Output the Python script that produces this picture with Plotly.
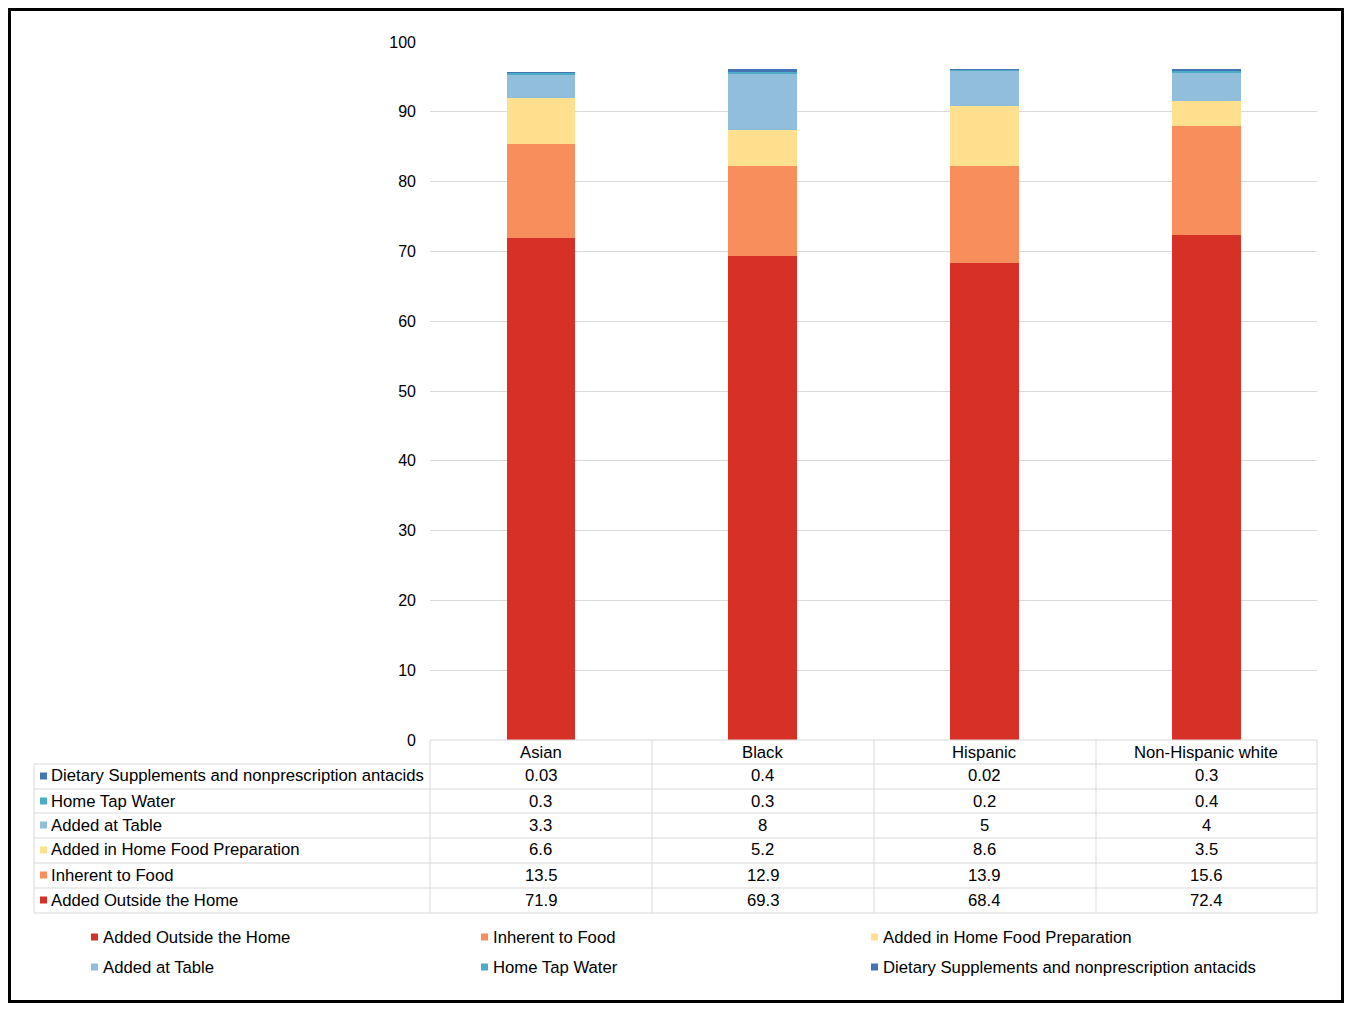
import plotly.graph_objects as go

# Categories and series (bottom to top of stack)
groups = ["Asian", "Black", "Hispanic", "Non-Hispanic white"]
series_names = [
    "Added Outside the Home",
    "Inherent to Food",
    "Added in Home Food Preparation",
    "Added at Table",
    "Home Tap Water",
    "Dietary Supplements and nonprescription antacids",
]
outside_home = [71.9, 69.3, 68.4, 72.4]
inherent_food = [13.5, 12.9, 13.9, 15.6]
home_prep = [6.6, 5.2, 8.6, 3.5]
at_table = [3.3, 8, 5, 4]
tap_water = [0.3, 0.3, 0.2, 0.4]
supplements = [0.03, 0.4, 0.02, 0.3]
colors = ["#d73027", "#f88e5c", "#fee08f", "#91bfdb", "#4bacc6", "#4575b4"]

all_values = [outside_home, inherent_food, home_prep, at_table, tap_water, supplements]

# page has an 8px body margin, so the figure is 16px smaller than the window
OFF = 8
W, H = 1352 - 2 * OFF, 1011 - 2 * OFF
PX0, PX1, PY0, PY1 = 430, 1317, 42, 740   # plot area in window pixels
L, T = PX0 - OFF, PY0 - OFF
R, B = W - (PX1 - OFF), H - (PY1 - OFF)
PW, PH = PX1 - PX0, PY1 - PY0


def fx(px):
    return (px - PX0) / PW


def fy(py):
    return (PY1 - py) / PH


fig = go.Figure()
for name, vals, col in zip(series_names, all_values, colors):
    fig.add_trace(go.Bar(x=groups, y=vals, name=name, marker_color=col,
                         marker_line_width=0, showlegend=False))

font = dict(family="Liberation Sans, Arial, sans-serif", size=16.7, color="#000000")
grid = "#d9d9d9"

shapes = []
annotations = []


def swatch(x, yc, col):
    shapes.append(dict(type="rect", xref="paper", yref="paper",
                       x0=fx(x), x1=fx(x + 7), y0=fy(yc - 3.5), y1=fy(yc + 3.5),
                       fillcolor=col, line=dict(width=0)))


def label(x, yc, text):
    annotations.append(dict(x=fx(x), xref="paper", y=fy(yc), yref="paper",
                            text=text, showarrow=False, font=font,
                            xanchor="left", yanchor="middle", xshift=-2))


# data table grid
row_lines = [740, 764, 789, 813, 838, 863, 888, 913]
col_lines = [430, 652, 874, 1096, 1317]
for i, yl in enumerate(row_lines):
    x0 = 430 if i == 0 else 34
    shapes.append(dict(type="line", xref="paper", yref="paper",
                       x0=fx(x0), x1=fx(1317), y0=fy(yl), y1=fy(yl),
                       line=dict(color=grid, width=1)))
shapes.append(dict(type="line", xref="paper", yref="paper",
                   x0=fx(34), x1=fx(34), y0=fy(764), y1=fy(913),
                   line=dict(color=grid, width=1)))
for xl in col_lines:
    shapes.append(dict(type="line", xref="paper", yref="paper",
                       x0=fx(xl), x1=fx(xl), y0=fy(740), y1=fy(913),
                       line=dict(color=grid, width=1)))

# header row
for g in groups:
    annotations.append(dict(x=g, xref="x", y=fy(752), yref="paper", text=g,
                            showarrow=False, font=font, yanchor="middle"))

# table rows, top row is the last series
row_centers = [776, 801, 825, 850, 875, 900]
for rc, k in zip(row_centers, range(len(series_names) - 1, -1, -1)):
    swatch(40, rc, colors[k])
    label(51, rc, series_names[k])
    for g, v in zip(groups, all_values[k]):
        annotations.append(dict(x=g, xref="x", y=fy(rc), yref="paper",
                                text=f"{v:g}", showarrow=False, font=font,
                                yanchor="middle"))

# legend below the table, 3 columns
leg_x = [91, 481, 871]
leg_y = [937, 967]
for k, name in enumerate(series_names):
    sx, sy = leg_x[k % 3], leg_y[k // 3]
    swatch(sx, sy, colors[k])
    label(sx + 12, sy, name)

# outer frame (kept inside the figure so the 3px line is not clipped)
shapes.append(dict(type="rect", xref="paper", yref="paper",
                   x0=fx(9.5), x1=fx(1342.5), y0=fy(9.5), y1=fy(1001.5),
                   line=dict(color="#000000", width=3), fillcolor="rgba(0,0,0,0)"))

fig.update_layout(
    barmode="stack",
    bargap=0.69,
    width=W, height=H,
    margin=dict(l=L, r=R, t=T, b=B),
    paper_bgcolor="white",
    plot_bgcolor="white",
    font=font,
    shapes=shapes,
    annotations=annotations,
    showlegend=False,
)
fig.update_xaxes(showticklabels=False, showgrid=False, showline=False, zeroline=False)
fig.update_yaxes(range=[0, 100], dtick=10, showgrid=True, gridcolor=grid,
                 zeroline=False, showline=False, ticks="", ticklabelstandoff=13,
                 tickfont=dict(family=font["family"], size=16, color="#000000"))

fig.write_html("out.html")
